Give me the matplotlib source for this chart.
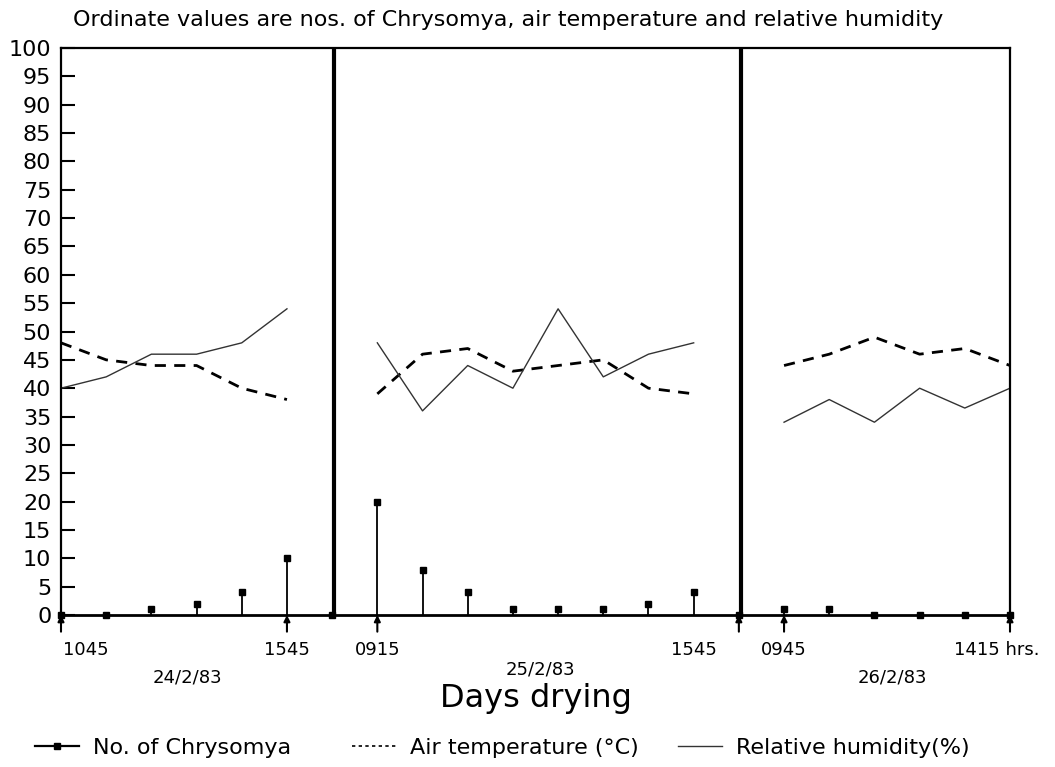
import numpy as np
import matplotlib
matplotlib.use("Agg")
import matplotlib.pyplot as plt
from matplotlib.lines import Line2D

plt.rcParams['font.family'] = ['DejaVu Sans']

# ---------------- data ----------------
# reading slots (0..21) across the three drying days
slots = list(range(22))
chrysomya = [0, 0, 1, 2, 4, 10, 0,
             20, 8, 4, 1, 1, 1, 2, 4, 0,
             1, 1, 0, 0, 0, 0]

day1_slots = [0, 1, 2, 3, 4, 5]
day1_temp = [48, 45, 44, 44, 40, 38]
day1_hum = [40, 42, 46, 46, 48, 54]

day2_slots = [7, 8, 9, 10, 11, 12, 13, 14]
day2_temp = [39, 46, 47, 43, 44, 45, 40, 39]
day2_hum = [48, 36, 44, 40, 54, 42, 46, 48]

day3_slots = [16, 17, 18, 19, 20, 21]
day3_temp = [44, 46, 49, 46, 47, 44]
day3_hum = [34, 38, 34, 40, 36.5, 40]

day_breaks = [6.05, 15.05]
arrow_slots = [0, 5, 7, 15, 16, 21]
time_labels = ["1045", "1545", "0915", "1545", "0945", "1415 hrs."]
time_label_slots = [0, 5, 7, 14, 16, 21]
date_labels = ["24/2/83", "25/2/83", "26/2/83"]
date_label_slots = [2.8, 10.6, 18.4]
yticks = list(range(0, 101, 5))

# ---------------- figure ----------------
W, H = 1055, 767
fig = plt.figure(figsize=(W / 100, H / 100), dpi=100)
ax = fig.add_axes([61 / W, 1 - 615 / H, (1010 - 61) / W, (615 - 48) / H])
ax.set_xlim(0, 21)
ax.set_ylim(0, 100)

temp_style = dict(color='black', lw=2.0, linestyle=(0, (4, 3)))
hum_style = dict(color='#333333', lw=1.0, linestyle='-')

for s, t, h in [(day1_slots, day1_temp, day1_hum),
                (day2_slots, day2_temp, day2_hum),
                (day3_slots, day3_temp, day3_hum)]:
    ax.plot(s, t, **temp_style)
    ax.plot(s, h, **hum_style)

# Chrysomya stems
ax.vlines(slots, 0, chrysomya, color='black', lw=1.3)
ax.plot(slots, chrysomya, 's', color='black', ms=4.5, clip_on=False, zorder=5)

# day separators
for b in day_breaks:
    ax.axvline(b, color='black', lw=3)

# arrow marks under the axis
for s in arrow_slots:
    ax.annotate('', xy=(s, 0), xytext=(0, -12), textcoords='offset points',
                arrowprops=dict(arrowstyle='-|>', lw=1.5, color='black',
                                mutation_scale=9, shrinkA=0, shrinkB=0),
                annotation_clip=False)

# spines / ticks
for sp in ax.spines.values():
    sp.set_linewidth(1.6)
ax.spines['bottom'].set_linewidth(2.0)
ax.set_yticks(yticks)
ax.set_yticklabels([str(v) for v in yticks])
ax.tick_params(axis='y', direction='in', length=10, width=1.5, pad=7,
               labelsize=16)
ax.set_xticks([])

xt = ax.get_xaxis_transform()
for lab, s in zip(time_labels, time_label_slots):
    if lab == "1045":
        ax.text(s + 0.05, -0.062, lab, transform=xt, ha='left', va='center', fontsize=13)
    elif lab.endswith("hrs."):
        ax.text(s - 1.25, -0.062, lab, transform=xt, ha='left', va='center', fontsize=13)
    else:
        ax.text(s, -0.062, lab, transform=xt, ha='center', va='center', fontsize=13)

for lab, s, yy in zip(date_labels, date_label_slots, [-0.111, -0.096, -0.111]):
    ax.text(s, yy, lab, transform=xt, ha='center', va='center', fontsize=13)

ax.text(10.5, -0.148, "Days drying", transform=xt, ha='center', va='center',
        fontsize=23)

fig.text(0.4815, 1 - 20 / H,
         "Ordinate values are nos. of Chrysomya, air temperature and relative humidity",
         ha='center', va='center', fontsize=16)

# legend entries
handles = [
    Line2D([0, 0.5, 1], [0, 0, 0], color='black', lw=1.6, marker='s', ms=4,
           markevery=[1]),
    Line2D([], [], color='black', lw=1.2, linestyle=(0, (2, 2))),
    Line2D([], [], color='#333333', lw=1.0),
]
labels = ["No. of Chrysomya", "Air temperature (°C)", "Relative humidity(%)"]
starts = [35, 352, 678]
for h, l, x0 in zip(handles, labels, starts):
    fig.legend([h], [l], loc='center left', bbox_to_anchor=(x0 / W, 1 - 748 / H),
               frameon=False, fontsize=16, handlelength=2.0, handletextpad=0.6,
               borderpad=0, borderaxespad=0)

fig.savefig("out.png", dpi=100)
